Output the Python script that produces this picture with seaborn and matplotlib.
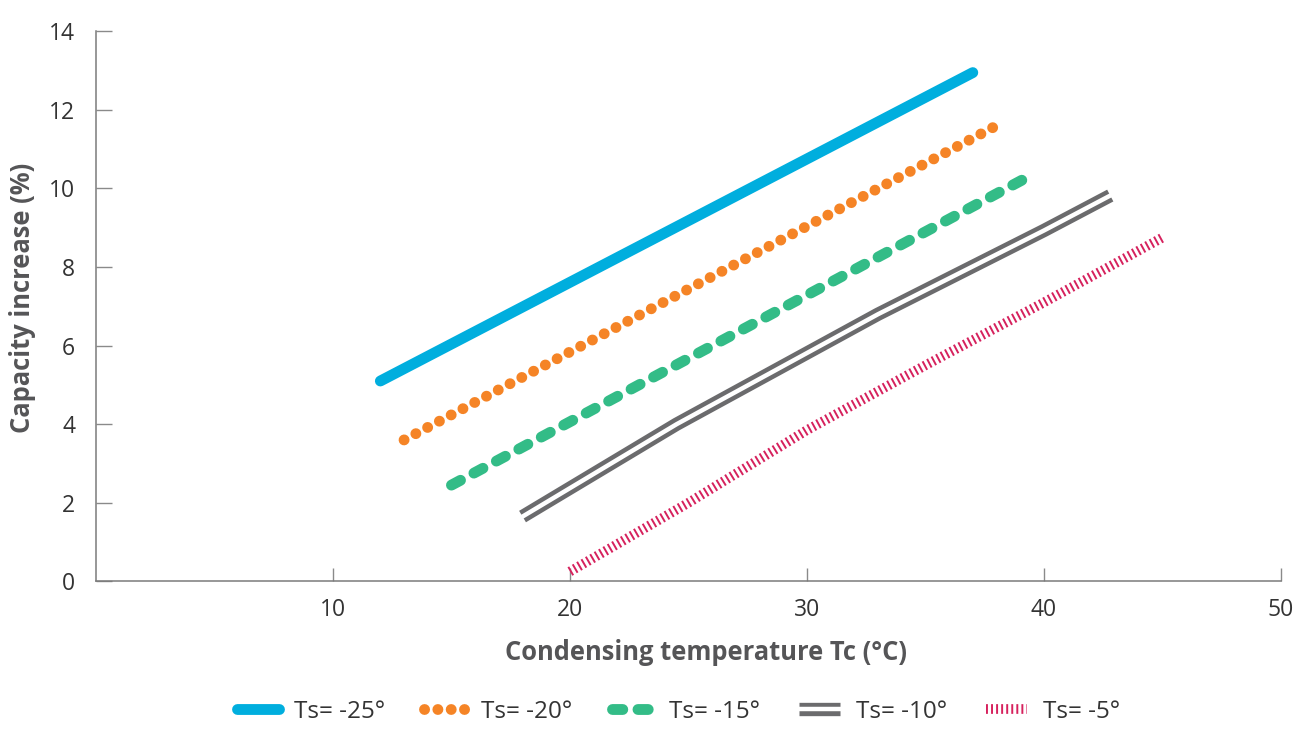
import numpy as np
import pandas as pd
import matplotlib
matplotlib.use('Agg')
import matplotlib.pyplot as plt
import seaborn as sns

# values
tc_m25 = [12, 37]
cap_m25 = [5.1, 12.95]
tc_m20 = [13, 38]
cap_m20 = [3.6, 11.6]
tc_m15 = [15, 39.5]
cap_m15 = [2.45, 10.35]
tc_m10 = [18, 24.5, 33, 40, 42.8]
cap_m10 = [1.65, 4.0, 6.8, 8.93, 9.82]
tc_m5 = [20, 25, 30, 35, 40, 45]
cap_m5 = [0.25, 2.0, 3.85, 5.5, 7.1, 8.75]

labels = ['Ts= -25°', 'Ts= -20°', 'Ts= -15°', 'Ts= -10°', 'Ts= -5°']
colors = ['#00AEDE', '#F58426', '#33BC87', '#6B6B6D', '#D6215D']

x_ticks = [10, 20, 30, 40, 50]
y_ticks = [0, 2, 4, 6, 8, 10, 12, 14]

sns.set_theme(style='white')
plt.rcParams['font.family'] = ['Open Sans', 'DejaVu Sans']

fig = plt.figure(figsize=(12.95, 7.29), dpi=100)
ax = fig.add_axes([0.0741, 0.2025, 0.915, 0.7545])

# Ts = -25 : solid thick
sns.lineplot(x=tc_m25, y=cap_m25, ax=ax, color=colors[0], lw=7.8,
             solid_capstyle='round', label=labels[0])
# Ts = -20 : round dots
sns.lineplot(x=tc_m20, y=cap_m20, ax=ax, color=colors[1], lw=7.8,
             linestyle=(0, (0.01, 1.22)), dash_capstyle='round', label=labels[1])
# Ts = -15 : rounded dashes
sns.lineplot(x=tc_m15, y=cap_m15, ax=ax, color=colors[2], lw=7.8,
             linestyle=(0, (0.95, 1.4)), dash_capstyle='round', label=labels[2])
# Ts = -10 : double line (grey line with white core)
sns.lineplot(x=tc_m10, y=cap_m10, ax=ax, color=colors[3], lw=9.6,
             solid_capstyle='butt', label=labels[3])
sns.lineplot(x=tc_m10, y=cap_m10, ax=ax, color='white', lw=3.2,
             solid_capstyle='projecting')
# Ts = -5 : hatched stripes
sns.lineplot(x=tc_m5, y=cap_m5, ax=ax, color=colors[4], lw=7.0,
             linestyle=(0, (0.2, 0.32)), dash_capstyle='butt', label=labels[4])

ax.set_xlim(0, 50)
ax.set_ylim(0, 14)
ax.set_xticks(x_ticks)
ax.set_yticks(y_ticks)

for side in ['top', 'right']:
    ax.spines[side].set_visible(False)
for side in ['left', 'bottom']:
    ax.spines[side].set_color('#7a7a7a')
    ax.spines[side].set_linewidth(1.1)

ax.tick_params(axis='y', direction='in', length=11.5, width=1.0, color='#8a8a8a',
               pad=15, labelsize=16.5, labelcolor='#333333')
ax.tick_params(axis='x', direction='in', length=9.5, width=1.0, color='#8a8a8a',
               pad=12, labelsize=16.5, labelcolor='#333333')
ax.tick_params(left=True, bottom=True)

ax.set_xlabel('Condensing temperature Tc (°C)', fontsize=18.4, fontweight='bold',
              color='#555557')
ax.set_ylabel('Capacity increase (%)', fontsize=18.4, fontweight='bold',
              color='#555557')
ax.xaxis.set_label_coords(0.515, -0.129)
ax.yaxis.set_label_coords(-0.0624, 0.515)
ax.xaxis.label.set_va('center')
ax.yaxis.label.set_va('center')

# legend: build handles, with the double line as an overlaid pair
lines = ax.get_lines()
handles = [lines[0], lines[1], lines[2], (lines[3], lines[4]), lines[5]]
ax.legend_.remove()
fig.legend(handles, labels, loc='center', bbox_to_anchor=(0.524, 0.024),
           ncol=5, frameon=False, fontsize=17.5, handlelength=1.7,
           handletextpad=0.65, columnspacing=1.6, labelcolor='#333333',
           borderpad=0.2)

fig.savefig('out.png', dpi=100)
